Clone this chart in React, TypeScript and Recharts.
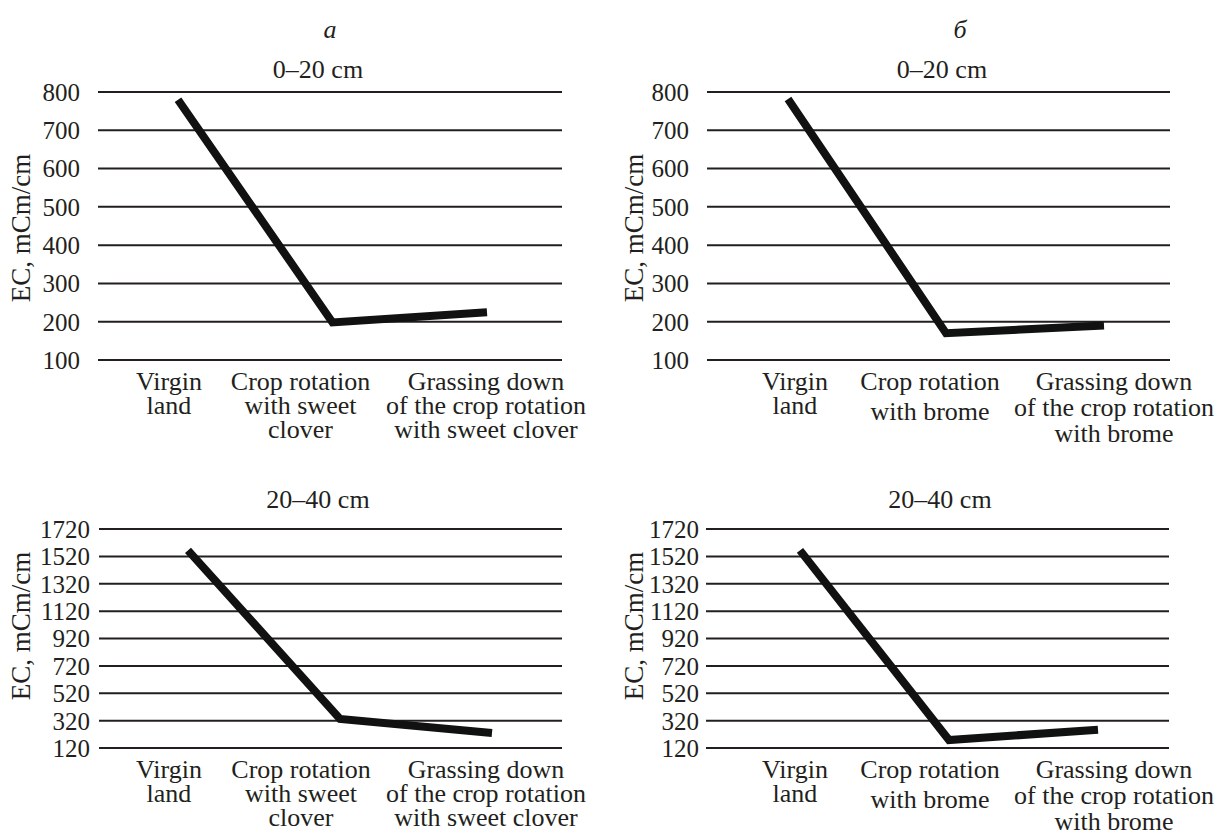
import React from 'react';
import { LineChart, Line, XAxis, YAxis, CartesianGrid } from 'recharts';

const INK = '#231f20';
const FONT = '"Liberation Serif", "Times New Roman", serif';

// categories (x axis)
const categoriesClover = [
  'Virgin land',
  'Crop rotation with sweet clover',
  'Grassing down of the crop rotation with sweet clover',
];
const categoriesBrome = [
  'Virgin land',
  'Crop rotation with brome',
  'Grassing down of the crop rotation with brome',
];
const linesClover = [
  ['Virgin', 'land'],
  ['Crop rotation', 'with sweet', 'clover'],
  ['Grassing down', 'of the crop rotation', 'with sweet clover'],
];
const linesBrome = [
  ['Virgin', 'land'],
  ['Crop rotation', 'with brome'],
  ['Grassing down', 'of the crop rotation', 'with brome'],
];

// EC, mCm/cm
const ecClover0_20 = [780, 198, 225];
const ecBrome0_20 = [782, 170, 190];
const ecClover20_40 = [1564, 332, 230];
const ecBrome20_40 = [1564, 178, 254];

const ticks0_20 = [100, 200, 300, 400, 500, 600, 700, 800];
const ticks20_40 = [120, 320, 520, 720, 920, 1120, 1320, 1520, 1720];

type PanelProps = {
  left: number;
  top: number;
  width: number;
  height: number;
  yWidth: number;
  marginRight: number;
  xHeight: number;
  padL: number;
  padR: number;
  tickMargin: number;
  categories: string[];
  lines: string[][];
  labelDx: number[];
  lineGap: number[];
  values: number[];
  ticks: number[];
};

function Panel(p: PanelProps) {
  const data = p.categories.map((name, i) => ({ name, ec: p.values[i] }));
  const renderTick = (props: any) => {
    const { x, y, payload } = props;
    let i = payload.index;
    if (i === undefined) i = p.categories.indexOf(payload.value);
    const cx = x + p.labelDx[i];
    return (
      <text x={cx} y={y} textAnchor="middle" fontSize={26} fill={INK} fontFamily={FONT}>
        {p.lines[i].map((t, k) => (
          <tspan key={k} x={cx} dy={k === 0 ? 22 : p.lineGap[i]}>
            {t}
          </tspan>
        ))}
      </text>
    );
  };
  return (
    <div style={{ position: 'absolute', left: p.left, top: p.top }}>
      <LineChart
        width={p.width}
        height={p.height}
        data={data}
        margin={{ top: 12, right: p.marginRight, left: 0, bottom: 0 }}
      >
        <CartesianGrid vertical={false} stroke={INK} strokeWidth={2} />
        <XAxis
          dataKey="name"
          axisLine={false}
          tickLine={false}
          interval={0}
          height={p.xHeight}
          padding={{ left: p.padL, right: p.padR }}
          tick={renderTick}
        />
        <YAxis
          width={p.yWidth}
          domain={[p.ticks[0], p.ticks[p.ticks.length - 1]]}
          ticks={p.ticks}
          interval={0}
          axisLine={false}
          tickLine={false}
          tickMargin={p.tickMargin}
          tick={{ fontSize: 25, fill: INK, fontFamily: FONT }}
        />
        <Line
          type="linear"
          dataKey="ec"
          stroke="#111"
          strokeWidth={8}
          strokeLinecap="butt"
          strokeLinejoin="miter"
          dot={false}
          activeDot={false}
          isAnimationActive={false}
        />
      </LineChart>
    </div>
  );
}

const textStyle: React.CSSProperties = {
  position: 'absolute',
  fontFamily: FONT,
  color: INK,
  whiteSpace: 'nowrap',
  textAlign: 'center',
  width: 220,
  height: 32,
  lineHeight: '32px',
};

function Text({ cx, cy, children, rotate, italic, size = 26 }: { cx: number; cy: number; children: React.ReactNode; rotate?: boolean; italic?: boolean; size?: number }) {
  return (
    <div
      style={{
        ...textStyle,
        left: cx - 110,
        top: cy - 16,
        fontSize: size,
        fontStyle: italic ? 'italic' : 'normal',
        transform: rotate ? 'rotate(-90deg)' : undefined,
      }}
    >
      {children}
    </div>
  );
}

export default function App() {
  return (
    <div style={{ position: 'absolute', left: 0, top: 0, width: 1214, height: 832, background: '#fff', overflow: 'hidden' }}>
      <Text cx={330} cy={30} italic>а</Text>
      <Text cx={960} cy={30} italic>б</Text>

      <Text cx={318} cy={70}>0–20 cm</Text>
      <Text cx={942} cy={70}>0–20 cm</Text>
      <Text cx={318} cy={500}>20–40 cm</Text>
      <Text cx={940} cy={500}>20–40 cm</Text>

      <Text cx={21} cy={228} rotate size={27}>EC, mCm/cm</Text>
      <Text cx={634} cy={228} rotate size={27}>EC, mCm/cm</Text>
      <Text cx={21} cy={626} rotate size={27}>EC, mCm/cm</Text>
      <Text cx={634} cy={626} rotate size={27}>EC, mCm/cm</Text>

      <Panel
        left={0}
        top={80}
        width={600}
        height={370}
        yWidth={98}
        marginRight={38}
        xHeight={90}
        padL={80}
        padR={75}
        tickMargin={12}
        categories={categoriesClover}
        lines={linesClover}
        labelDx={[-9, -32, -1]}
        lineGap={[24, 24, 24]}
        values={ecClover0_20}
        ticks={ticks0_20}
      />
      <Panel
        left={600}
        top={80}
        width={614}
        height={370}
        yWidth={107}
        marginRight={44}
        xHeight={90}
        padL={81}
        padR={66}
        tickMargin={12}
        categories={categoriesBrome}
        lines={linesBrome}
        labelDx={[7, -16, 10]}
        lineGap={[24, 30, 26]}
        values={ecBrome0_20}
        ticks={ticks0_20}
      />
      <Panel
        left={0}
        top={517}
        width={600}
        height={315}
        yWidth={99}
        marginRight={38}
        xHeight={84}
        padL={89}
        padR={70}
        tickMargin={3}
        categories={categoriesClover}
        lines={linesClover}
        labelDx={[-19, -39, -6]}
        lineGap={[24, 24, 24]}
        values={ecClover20_40}
        ticks={ticks20_40}
      />
      <Panel
        left={600}
        top={517}
        width={614}
        height={315}
        yWidth={106}
        marginRight={45}
        xHeight={84}
        padL={94}
        padR={71}
        tickMargin={1}
        categories={categoriesBrome}
        lines={linesBrome}
        labelDx={[-5, -19, 16]}
        lineGap={[24, 30, 26]}
        values={ecBrome20_40}
        ticks={ticks20_40}
      />
    </div>
  );
}
